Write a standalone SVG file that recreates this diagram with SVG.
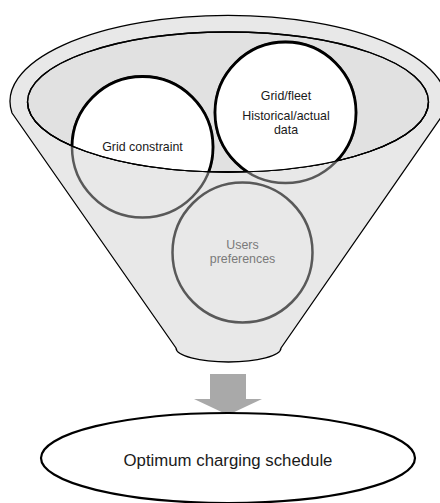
<svg xmlns="http://www.w3.org/2000/svg" width="440" height="503" viewBox="0 0 440 503">
  <style>
    .label { font-family: "Liberation Sans", Arial, sans-serif; text-anchor: middle; }
    .dark { fill: #1a1a1a; font-size: 12.4px; }
    .muted { fill: #7a7a7a; font-size: 12.4px; }
    .back { fill: none; stroke: #595959; stroke-width: 2.5; }
    .front { fill: #ffffff; stroke: #000000; stroke-width: 2.8; }
  </style>
  <defs>
    <clipPath id="mouth">
      <ellipse cx="228" cy="102" rx="200.5" ry="70"/>
    </clipPath>
  </defs>

  <!-- funnel body -->
  <g id="funnel">
    <path d="M 12 113 A 218 86 0 1 1 444 113 L 281 348 A 52.5 14 0 0 1 176 348 Z"
          fill="#e8e8e8" stroke="#000" stroke-width="1.3" stroke-linejoin="round"/>
    <ellipse cx="228" cy="102" rx="200.5" ry="70" fill="#e1e1e1" stroke="#000" stroke-width="1.3"/>
  </g>

  <!-- input circles: grey outline below the mouth, white fill inside it -->
  <g id="users-preferences">
    <circle class="back" cx="242.5" cy="252.5" r="70"/>
    <text class="label muted" x="242.5" y="249">Users</text>
    <text class="label muted" x="242.5" y="263">preferences</text>
  </g>

  <g id="grid-constraint">
    <circle class="back" cx="142.5" cy="147" r="70.5"/>
    <circle class="front" cx="142.5" cy="147" r="70.5" clip-path="url(#mouth)"/>
    <ellipse cx="228" cy="102" rx="200.5" ry="70" fill="none" stroke="#000" stroke-width="1.3"/>
    <text class="label dark" x="142.5" y="151">Grid constraint</text>
  </g>

  <g id="grid-fleet">
    <circle class="back" cx="285.5" cy="112.5" r="70.5"/>
    <circle class="front" cx="285.5" cy="112.5" r="70.5" clip-path="url(#mouth)"/>
    <text class="label dark" x="286" y="100">Grid/fleet</text>
    <text class="label dark" x="286" y="120">Historical/actual</text>
    <text class="label dark" x="286" y="134">data</text>
  </g>

  <!-- rim line redrawn on top of circle fills, and the output arrow -->
  <g id="connectors">
    <path d="M 27.5 102 A 200.5 70 0 0 0 428.5 102" fill="none" stroke="#000" stroke-width="1.3"/>
    <path d="M 210 374 H 246 V 399 H 262 L 228 415 L 194 399 H 210 Z" fill="#a9a9a9"/>
  </g>

  <!-- output -->
  <g id="optimum-charging-schedule">
    <ellipse cx="228" cy="458" rx="187" ry="45" fill="#ffffff" stroke="#000" stroke-width="2.2"/>
    <text class="label" x="228" y="466" font-size="16.8" fill="#1a1a1a">Optimum charging schedule</text>
  </g>
</svg>
